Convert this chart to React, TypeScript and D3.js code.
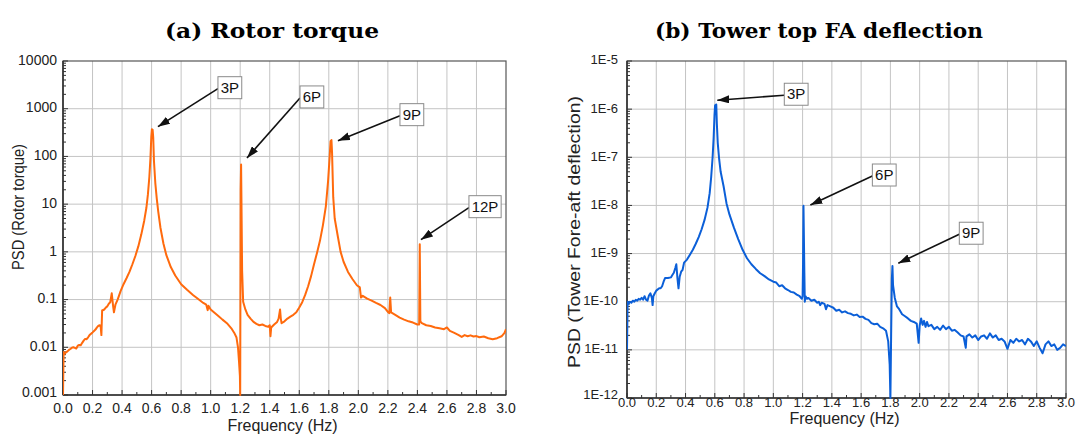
import React from 'react'
import * as d3 from 'd3'

// x axis (both panels)
const freqTicks = [0, 0.2, 0.4, 0.6, 0.8, 1.0, 1.2, 1.4, 1.6, 1.8, 2.0, 2.2, 2.4, 2.6, 2.8, 3.0]
const freqTickLabels = ['0.0', '0.2', '0.4', '0.6', '0.8', '1.0', '1.2', '1.4', '1.6', '1.8', '2.0', '2.2', '2.4', '2.6', '2.8', '3.0']

// y axes
const rotorDecades = [0.001, 0.01, 0.1, 1, 10, 100, 1000, 10000]
const rotorDecadeLabels = ['0.001', '0.01', '0.1', '1', '10', '100', '1000', '10000']
const towerDecades = [1e-12, 1e-11, 1e-10, 1e-9, 1e-8, 1e-7, 1e-6, 1e-5]
const towerDecadeLabels = ['1E-12', '1E-11', '1E-10', '1E-9', '1E-8', '1E-7', '1E-6', '1E-5']

// [frequency Hz, PSD]
const rotorPsd: [number, number][] = [
  [0.000, 0.001], [0.004, 0.008], [0.01, 0.0072], [0.02, 0.0078], [0.03, 0.0082], [0.04, 0.0088],
  [0.05, 0.0092], [0.06, 0.0098], [0.07, 0.0100], [0.08, 0.0097], [0.09, 0.0094], [0.10, 0.0108],
  [0.11, 0.0112], [0.12, 0.0110], [0.13, 0.0124], [0.14, 0.0138], [0.15, 0.0150], [0.16, 0.0148],
  [0.17, 0.0162], [0.18, 0.0180], [0.19, 0.0192], [0.20, 0.0205], [0.21, 0.0220], [0.22, 0.0235],
  [0.23, 0.0262], [0.24, 0.0282], [0.25, 0.0290], [0.255, 0.0270], [0.26, 0.0180], [0.265, 0.0590],
  [0.28, 0.0620], [0.29, 0.0680], [0.30, 0.0720], [0.31, 0.0820], [0.32, 0.0880], [0.33, 0.1350],
  [0.34, 0.0700], [0.345, 0.0540], [0.355, 0.0780], [0.37, 0.1000], [0.39, 0.1500], [0.41, 0.2100],
  [0.43, 0.2800], [0.45, 0.3800], [0.47, 0.5500], [0.49, 0.8200], [0.51, 1.30], [0.53, 2.30],
  [0.55, 4.50], [0.565, 8.5], [0.575, 16], [0.585, 38], [0.592, 90], [0.598, 260], [0.602, 370],
  [0.607, 360], [0.611, 250], [0.616, 80], [0.625, 28], [0.635, 13], [0.645, 7.0], [0.66, 3.2],
  [0.68, 1.5], [0.70, 0.85], [0.73, 0.48], [0.76, 0.32], [0.80, 0.21], [0.84, 0.16], [0.88, 0.125],
  [0.92, 0.100], [0.95, 0.085], [0.97, 0.078], [0.98, 0.060], [0.985, 0.074], [0.99, 0.070],
  [1.00, 0.062], [1.02, 0.055], [1.05, 0.046], [1.08, 0.038], [1.11, 0.032], [1.14, 0.025],
  [1.16, 0.020], [1.175, 0.016], [1.185, 0.010], [1.192, 0.005], [1.198, 0.0025], [1.200, 0.001],
  [1.203, 20], [1.206, 68], [1.209, 8], [1.213, 0.4], [1.22, 0.09], [1.235, 0.062], [1.25, 0.048],
  [1.27, 0.040], [1.29, 0.034], [1.31, 0.031], [1.33, 0.029], [1.35, 0.030], [1.37, 0.028],
  [1.39, 0.027], [1.40, 0.029], [1.405, 0.017], [1.41, 0.026], [1.43, 0.030], [1.45, 0.034],
  [1.46, 0.040], [1.47, 0.062], [1.475, 0.040], [1.48, 0.032], [1.50, 0.035], [1.52, 0.040],
  [1.54, 0.044], [1.56, 0.048], [1.58, 0.054], [1.60, 0.068], [1.62, 0.088], [1.64, 0.125],
  [1.66, 0.19], [1.68, 0.31], [1.70, 0.55], [1.72, 0.95], [1.74, 1.7], [1.76, 3.6], [1.78, 9],
  [1.795, 30], [1.805, 90], [1.812, 210], [1.818, 220], [1.822, 120], [1.83, 14], [1.84, 5.0],
  [1.86, 2.2], [1.88, 1.0], [1.90, 0.62], [1.93, 0.38], [1.96, 0.27], [1.99, 0.20], [2.01, 0.18],
  [2.018, 0.11], [2.03, 0.12], [2.06, 0.105], [2.09, 0.095], [2.12, 0.085], [2.15, 0.077],
  [2.18, 0.066], [2.20, 0.055], [2.21, 0.052], [2.216, 0.110], [2.222, 0.054], [2.25, 0.048],
  [2.28, 0.042], [2.31, 0.038], [2.34, 0.035], [2.37, 0.033], [2.40, 0.030], [2.412, 0.030],
  [2.416, 1.45], [2.420, 0.035], [2.43, 0.032], [2.46, 0.029], [2.49, 0.028], [2.52, 0.026],
  [2.55, 0.025], [2.58, 0.024], [2.60, 0.026], [2.62, 0.022], [2.65, 0.020], [2.68, 0.018],
  [2.70, 0.0165], [2.72, 0.0180], [2.74, 0.0170], [2.76, 0.0178], [2.78, 0.0168], [2.80, 0.0172],
  [2.82, 0.0162], [2.85, 0.0168], [2.88, 0.0155], [2.91, 0.0148], [2.94, 0.0155], [2.97, 0.0170],
  [2.99, 0.0200], [3.00, 0.0240],
]

const towerPsd: [number, number][] = [
  [0.000, 1.0e-11], [0.004, 1.0e-10], [0.01, 9.0e-11], [0.02, 1.0e-10], [0.03, 9.5e-11],
  [0.04, 1.05e-10], [0.05, 1.0e-10], [0.06, 1.1e-10], [0.07, 1.05e-10], [0.08, 1.15e-10],
  [0.09, 1.1e-10], [0.10, 1.2e-10], [0.11, 1.1e-10], [0.12, 1.3e-10], [0.13, 1.1e-10],
  [0.14, 1.05e-10], [0.15, 1.35e-10], [0.16, 1.5e-10], [0.17, 1.2e-10], [0.175, 8.5e-11],
  [0.18, 1.3e-10], [0.19, 1.5e-10], [0.20, 1.7e-10], [0.22, 1.9e-10], [0.23, 1.9e-10],
  [0.24, 2.1e-10], [0.25, 2.6e-10], [0.26, 3.1e-10], [0.28, 3.1e-10], [0.30, 3.2e-10],
  [0.31, 3.6e-10], [0.32, 4.0e-10], [0.33, 5.0e-10], [0.337, 6.0e-10], [0.345, 3.0e-10],
  [0.352, 1.9e-10], [0.36, 3.3e-10], [0.37, 4.2e-10], [0.38, 4.6e-10], [0.39, 6.5e-10],
  [0.41, 7.5e-10], [0.43, 9.5e-10], [0.45, 1.2e-9], [0.47, 1.6e-9], [0.49, 2.2e-9],
  [0.51, 3.2e-9], [0.53, 5.0e-9], [0.55, 9.0e-9], [0.565, 1.8e-8], [0.575, 3.8e-8],
  [0.585, 1.0e-7], [0.592, 2.5e-7], [0.598, 7.5e-7], [0.602, 1.2e-6], [0.606, 1.05e-6],
  [0.610, 1.25e-6], [0.614, 5.0e-7], [0.62, 2.0e-7], [0.63, 9.0e-8], [0.64, 5.0e-8],
  [0.66, 2.5e-8], [0.68, 1.1e-8], [0.70, 6.5e-9], [0.73, 3.5e-9], [0.76, 2.0e-9],
  [0.79, 1.2e-9], [0.82, 8.0e-10], [0.85, 6.0e-10], [0.88, 4.8e-10], [0.91, 3.9e-10],
  [0.94, 3.4e-10], [0.97, 2.9e-10], [1.00, 2.6e-10], [1.02, 2.5e-10], [1.04, 2.1e-10],
  [1.06, 2.2e-10], [1.08, 1.9e-10], [1.10, 1.75e-10], [1.12, 1.6e-10], [1.14, 1.55e-10],
  [1.16, 1.4e-10], [1.18, 1.3e-10], [1.195, 1.15e-10], [1.200, 1.3e-10], [1.203, 6.0e-10],
  [1.206, 9.8e-9], [1.209, 2.0e-9], [1.212, 4.0e-10], [1.215, 1.0e-10], [1.22, 1.3e-10],
  [1.23, 1.15e-10], [1.24, 1.2e-10], [1.26, 1.05e-10], [1.28, 1.1e-10], [1.30, 9.5e-11],
  [1.31, 1.0e-10], [1.32, 8.5e-11], [1.33, 9.5e-11], [1.35, 9.0e-11], [1.36, 7.0e-11],
  [1.37, 8.5e-11], [1.39, 8.0e-11], [1.41, 7.5e-11], [1.43, 6.5e-11], [1.45, 6.8e-11],
  [1.47, 6.0e-11], [1.49, 6.3e-11], [1.51, 5.8e-11], [1.53, 5.6e-11], [1.55, 5.2e-11],
  [1.57, 5.4e-11], [1.59, 4.8e-11], [1.61, 4.9e-11], [1.63, 4.4e-11], [1.65, 4.2e-11],
  [1.67, 3.6e-11], [1.69, 3.4e-11], [1.71, 3.5e-11], [1.73, 3.0e-11], [1.75, 2.8e-11],
  [1.77, 2.5e-11], [1.785, 1.5e-11], [1.795, 5.0e-12], [1.800, 1.0e-12], [1.805, 2.0e-11],
  [1.810, 3.0e-10], [1.814, 5.5e-10], [1.818, 2.2e-10], [1.83, 1.2e-10], [1.845, 8.0e-11],
  [1.86, 7.0e-11], [1.88, 5.5e-11], [1.90, 5.0e-11], [1.92, 4.5e-11], [1.94, 4.0e-11],
  [1.96, 3.8e-11], [1.98, 3.5e-11], [1.993, 1.4e-11], [2.00, 3.2e-11], [2.01, 4.5e-11],
  [2.02, 3.3e-11], [2.03, 4.0e-11], [2.04, 3.0e-11], [2.05, 3.8e-11], [2.06, 3.1e-11],
  [2.08, 3.3e-11], [2.10, 2.7e-11], [2.12, 3.0e-11], [2.14, 2.6e-11], [2.16, 3.2e-11],
  [2.18, 2.7e-11], [2.20, 3.0e-11], [2.22, 2.5e-11], [2.24, 2.6e-11], [2.26, 2.3e-11],
  [2.28, 2.0e-11], [2.30, 1.9e-11], [2.315, 1.1e-11], [2.32, 1.9e-11], [2.34, 2.1e-11],
  [2.36, 1.8e-11], [2.38, 2.0e-11], [2.40, 1.6e-11], [2.42, 1.9e-11], [2.44, 2.0e-11],
  [2.46, 1.7e-11], [2.48, 2.2e-11], [2.50, 1.8e-11], [2.52, 2.0e-11], [2.54, 1.6e-11],
  [2.56, 1.7e-11], [2.58, 1.5e-11], [2.60, 1.05e-11], [2.62, 1.6e-11], [2.64, 1.4e-11],
  [2.66, 1.7e-11], [2.68, 1.5e-11], [2.70, 1.6e-11], [2.72, 1.3e-11], [2.74, 1.7e-11],
  [2.76, 1.5e-11], [2.78, 1.2e-11], [2.80, 1.5e-11], [2.82, 1.1e-11], [2.84, 8.5e-12],
  [2.86, 1.3e-11], [2.88, 1.5e-11], [2.90, 1.2e-11], [2.92, 1.3e-11], [2.94, 1.0e-11],
  [2.96, 1.1e-11], [2.98, 1.3e-11], [3.00, 1.2e-11],
]

// peak labels: label, arrow tip frequency, arrow tip PSD
const rotorPeakLabels = ['3P', '6P', '9P', '12P']
const rotorPeakFreq = [0.643, 1.246, 1.862, 2.424]
const rotorPeakPsd = [420, 93, 214, 1.8]
const towerPeakLabels = ['3P', '6P', '9P']
const towerPeakFreq = [0.617, 1.253, 1.854]
const towerPeakPsd = [1.53e-6, 1.02e-8, 6.3e-10]

const sans = 'Arial, "Liberation Sans", Helvetica, sans-serif'

function Panel({ id, left, right, top, bottom, data, color, decades, decadeLabels, yLabel, yLabelX, yLabelY, yLabelLen,
  xLabelY, xTickY, tickSize, yLabelGap, title, titleX, titleLen, peaks, boxes }: any) {
  const x = d3.scaleLinear().domain([0, 3]).range([left, right])
  const y = d3.scaleLog().domain([decades[0], decades[decades.length - 1]]).range([bottom, top])
  const line = d3.line<[number, number]>().x(d => x(d[0])).y(d => y(d[1]))

  const minorY: number[] = []
  decades.slice(0, -1).forEach((d: number) => {
    for (let k = 2; k <= 9; k++) minorY.push(d * k)
  })
  const minorX = d3.range(0.1, 3, 0.2)

  return (
    <g>
      <defs>
        <clipPath id={'clip-' + id}>
          <rect x={left} y={top - 1} width={right - left} height={bottom - top + 2} />
        </clipPath>
      </defs>
      <text x={titleX} y={38} textAnchor="middle" fontFamily='"DejaVu Serif", serif' fontWeight="bold" fontSize={21}
        textLength={titleLen} lengthAdjust="spacingAndGlyphs">{title}</text>

      {/* grid */}
      {freqTicks.slice(1, -1).map(t => (
        <line key={'gx' + t} x1={x(t)} x2={x(t)} y1={top} y2={bottom} stroke="#c4c4c4" strokeWidth={1} />
      ))}
      {decades.slice(1, -1).map((d: number) => (
        <line key={'gy' + d} x1={left} x2={right} y1={y(d)} y2={y(d)} stroke="#c4c4c4" strokeWidth={1} />
      ))}

      {/* frame */}
      <rect x={left} y={top} width={right - left} height={bottom - top} fill="none" stroke="#555" strokeWidth={1.2} />
      <line x1={left} x2={left} y1={top} y2={bottom} stroke="#333" strokeWidth={1.6} />
      <line x1={left} x2={right} y1={bottom} y2={bottom} stroke="#333" strokeWidth={1.6} />

      {/* ticks */}
      {freqTicks.map(t => (
        <line key={'tx' + t} x1={x(t)} x2={x(t)} y1={bottom} y2={bottom - 5} stroke="#333" strokeWidth={1} />
      ))}
      {minorX.map(t => (
        <line key={'mx' + t} x1={x(t)} x2={x(t)} y1={bottom} y2={bottom - 3} stroke="#333" strokeWidth={1} />
      ))}
      {decades.map((d: number) => (
        <line key={'ty' + d} x1={left} x2={left + 5} y1={y(d)} y2={y(d)} stroke="#333" strokeWidth={1} />
      ))}
      {minorY.map(d => (
        <line key={'my' + d} x1={left} x2={left + 3} y1={y(d)} y2={y(d)} stroke="#333" strokeWidth={1} />
      ))}

      {/* tick labels */}
      {freqTicks.map((t, i) => (
        <text key={'lx' + t} x={x(t)} y={xTickY} textAnchor="middle" dominantBaseline="middle" fontFamily={sans} fontSize={tickSize} fill="#222">
          {freqTickLabels[i]}
        </text>
      ))}
      {decades.map((d: number, i: number) => (
        <text key={'ly' + d} x={left - yLabelGap} y={y(d) - (i === 0 ? 2 : 0)} textAnchor="end" dominantBaseline="middle" fontFamily={sans} fontSize={tickSize} fill="#222">
          {decadeLabels[i]}
        </text>
      ))}

      <text x={(left + right) / 2 - 2} y={xLabelY} textAnchor="middle" dominantBaseline="middle" fontFamily={sans} fontSize={16} fill="#222">
        Frequency (Hz)
      </text>
      <text transform={`translate(${yLabelX},${yLabelY}) rotate(-90)`} textAnchor="middle" dominantBaseline="middle"
        fontFamily={sans} fontSize={16} fill="#222" textLength={yLabelLen} lengthAdjust="spacingAndGlyphs">
        {yLabel}
      </text>

      {/* series */}
      <path d={line(data) || ''} fill="none" stroke={color} strokeWidth={2} strokeLinejoin="round" clipPath={`url(#clip-${id})`} />

      {/* annotations */}
      {peaks.map((p: any, i: number) => {
        const tx = x(p.f)
        const ty = y(p.psd)
        const [dx, dy] = boxes[i]
        const w = p.label.length * 8.4 + 7
        const h = 22
        const bx = tx + dx
        const by = ty + dy
        return (
          <g key={'pk' + i}>
            <line x1={bx} y1={by + 1} x2={tx} y2={ty} stroke="#111" strokeWidth={1.6} markerEnd="url(#arrowhead)" />
            <rect x={bx} y={by - h / 2} width={w} height={h} fill="#fff" stroke="#8a8a8a" strokeWidth={1} />
            <text x={bx + w / 2} y={by + 1} textAnchor="middle" dominantBaseline="middle" fontFamily={sans} fontSize={15} fill="#111">
              {p.label}
            </text>
          </g>
        )
      })}
    </g>
  )
}

export default function App() {
  const rotorPeaks = rotorPeakLabels.map((label, i) => ({ label, f: rotorPeakFreq[i], psd: rotorPeakPsd[i] }))
  const towerPeaks = towerPeakLabels.map((label, i) => ({ label, f: towerPeakFreq[i], psd: towerPeakPsd[i] }))

  return (
    <div style={{ position: 'absolute', left: 0, top: 0 }}>
      <svg width={1080} height={434} style={{ display: 'block', background: '#fff' }}>
        <defs>
          <marker id="arrowhead" viewBox="0 0 12 8" refX={12} refY={4} markerWidth={12} markerHeight={8}
            markerUnits="userSpaceOnUse" orient="auto">
            <path d="M0,0 L12,4 L0,8 z" fill="#111" />
          </marker>
        </defs>
        <Panel id="a" left={63} right={506} top={61} bottom={395} data={rotorPsd} color="#ff6a0d"
          decades={rotorDecades} decadeLabels={rotorDecadeLabels}
          yLabel="PSD (Rotor torque)" yLabelX={20} yLabelY={207} yLabelLen={126}
          xLabelY={427} xTickY={409} tickSize={14} yLabelGap={6}
          title="(a) Rotor torque" titleX={272} titleLen={214}
          peaks={rotorPeaks} boxes={[[60, -39], [53, -61], [62, -26], [48, -33]]} />
        <Panel id="b" left={627} right={1066} top={61} bottom={398} data={towerPsd} color="#0b5fd8"
          decades={towerDecades} decadeLabels={towerDecadeLabels}
          yLabel="PSD (Tower Fore-aft deflection)" yLabelX={576} yLabelY={232} yLabelLen={272}
          xLabelY={420} xTickY={404} tickSize={13} yLabelGap={9}
          title="(b) Tower top FA deflection" titleX={819} titleLen={328}
          peaks={towerPeaks} boxes={[[67, -6], [62, -30], [61, -30]]} />
      </svg>
    </div>
  )
}
